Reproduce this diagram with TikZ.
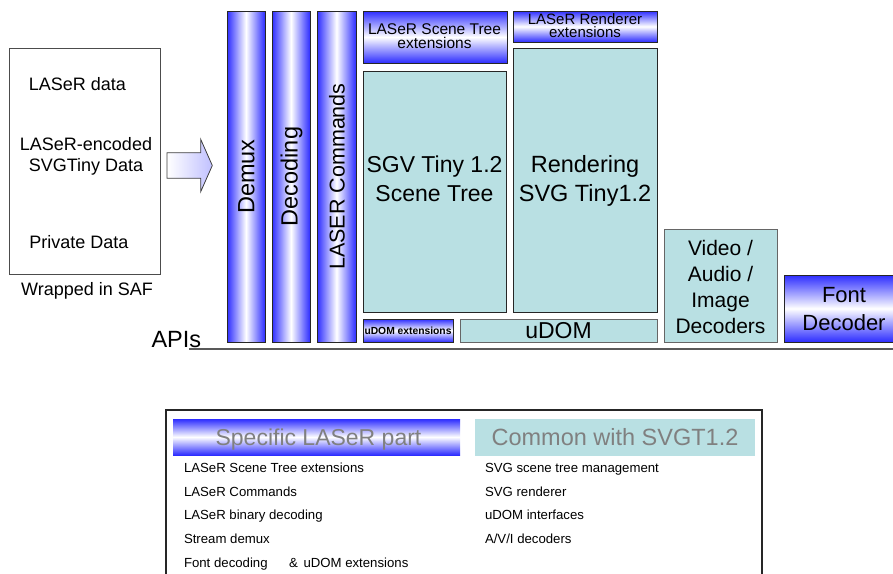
\documentclass[tikz,border=0pt]{standalone}
\usepackage{fontspec}
\setmainfont{Liberation Sans}
\definecolor{lb}{RGB}{45,45,255}
\definecolor{tealc}{RGB}{185,224,227}
\definecolor{txtgray}{RGB}{128,128,128}
\newcommand{\fsz}[2]{\fontsize{#1}{#2}\selectfont}
\begin{document}
\begin{tikzpicture}[x=1pt,y=-1pt,
  every node/.style={inner sep=0pt, outer sep=0pt},
  boxbase/.style={rectangle, anchor=north west, line width=1pt},
  vbar/.style={boxbase, draw=black!85, left color=lb, right color=lb, middle color=white},
  hbar/.style={boxbase, draw=black!85, top color=lb, bottom color=lb, middle color=white},
  tealbox/.style={boxbase, draw=black!85, fill=tealc},
  graybox/.style={boxbase, draw=black!60, fill=tealc},
  lst/.style={anchor=base west, font=\fsz{13.2}{15}},
  safl/.style={anchor=base, font=\fsz{18}{21}},
]
\useasboundingbox (0,0) rectangle (893,573);
\clip (0,0) rectangle (893,573);
\fill[white] (0,0) rectangle (893,573);

% left data box
\node[boxbase, draw=black!70, minimum width=151pt, minimum height=226pt] (saf) at (9,48) {};
\node[safl] (t1) at (77.5,90.4) {LASeR data};
\node[font=\fsz{18}{21}, align=center] (t2) at (86,156.5) {LASeR-encoded\\SVGTiny Data};
\node[safl] (t3) at (79,248.4) {Private Data};
\node[safl] (t4) at (87,295.4) {Wrapped in SAF};

% block arrow
\draw[line width=0.8pt, black!75, left color=white, right color=lb!30]
  (167,152.7) -- (200.7,152.7) -- (200.7,139.3) -- (212.3,165.5) -- (200.7,191.7) -- (200.7,178.3) -- (167,178.3) -- cycle;

% vertical bars
\node[vbar, minimum width=38pt, minimum height=331pt] (demux) at (227,11) {};
\node[vbar, minimum width=38pt, minimum height=331pt] (decod) at (272,11) {};
\node[vbar, minimum width=39pt, minimum height=331pt] (lcmd) at (317,11) {};
\node[rotate=90, font=\fsz{23.5}{27}] (demuxt) at ([xshift=0.5pt]demux.center) {Demux};
\node[rotate=90, font=\fsz{23.5}{27}] (decodt) at ([xshift=0.5pt]decod.center) {Decoding};
\node[rotate=90, font=\fsz{21.5}{25}] (lcmdt) at ([xshift=0.5pt]lcmd.center) {LASER Commands};

% scene tree column
\node[hbar, minimum width=144pt, minimum height=52pt] (sext) at (363,11) {};
\node[font=\fsz{15.5}{14.5}, align=center] (sextt) at (434.5,36) {LASeR Scene Tree\\extensions};
\node[tealbox, minimum width=143pt, minimum height=241pt] (sgv) at (363,71) {};
\node[font=\fsz{23}{29}, align=center] (sgvt) at (434.5,178.5) {SGV Tiny 1.2\\Scene Tree};
\node[hbar, minimum width=90pt, minimum height=23pt] (uext) at (363,319) {};
\node[font=\bfseries\fsz{10.3}{12}] (uextt) at (408,330.5) {uDOM extensions};

% renderer column
\node[hbar, minimum width=144pt, minimum height=31pt] (rext) at (513,11) {};
\node[font=\fsz{15}{13.6}, align=center] (rextt) at (585,25.5) {LASeR Renderer\\extensions};
\node[tealbox, minimum width=144pt, minimum height=264pt] (rend) at (513,48) {};
\node[font=\fsz{23.5}{28.5}, align=center] (rendt) at (585,181) {Rendering\\SVG Tiny1.2};
\node[graybox, minimum width=197pt, minimum height=23pt] (udom) at (460,319) {};
\node[font=\fsz{23}{27}] (udomt) at (558.5,331) {uDOM};

% decoders
\node[graybox, minimum width=113pt, minimum height=113pt] (vid) at (664,229) {};
\node[font=\fsz{21}{25.7}, align=center] (vidt) at (720.5,287) {Video /\\Audio /\\Image\\Decoders};
\node[hbar, minimum width=120pt, minimum height=67pt] (fdec) at (784,275) {};
\node[font=\fsz{22}{28}, align=center] (fdect) at (844,309.5) {Font\\Decoder};

% APIs
\node[anchor=base west, font=\fsz{23.5}{27}] (apis) at (151.5,347) {APIs};
\coordinate (lineA) at (189,349);
\coordinate (lineB) at (893,349);
\draw[line width=2pt, black!65] (lineA) -- (lineB);

% legend
\draw[line width=1.2pt, black!85] (166,580) -- (166,410) -- (762,410) -- (762,580);
\node[rectangle, anchor=north west, top color=lb, bottom color=lb, middle color=white, minimum width=287pt, minimum height=36pt] (spec) at (173,419) {};
\node[anchor=base, font=\fsz{23}{27}, text=txtgray] (spect) at (318.5,445.2) {Specific LASeR part};
\node[rectangle, anchor=north west, fill=tealc, minimum width=280pt, minimum height=37pt] (comm) at (475,419) {};
\node[anchor=base, font=\fsz{23.5}{27}, text=txtgray] (commt) at (615,445.5) {Common with SVGT1.2};

\node[lst] (l1) at (184,472.7) {LASeR Scene Tree extensions};
\node[lst] (l2) at (184,496.2) {LASeR Commands};
\node[lst] (l3) at (184,519.9) {LASeR binary decoding};
\node[lst] (l4) at (184,543.8) {Stream demux};
\node[lst] (l5) at (184,567.5) {Font decoding};
\node[lst] (l5b) at (289,567.5) {\&};
\node[lst] (l5c) at (303.5,567.5) {uDOM extensions};

\node[lst] (r1) at (485,472.7) {SVG scene tree management};
\node[lst] (r2) at (485,496.2) {SVG renderer};
\node[lst] (r3) at (485,519.9) {uDOM interfaces};
\node[lst] (r4) at (485,543.8) {A/V/I decoders};
\end{tikzpicture}
\end{document}
